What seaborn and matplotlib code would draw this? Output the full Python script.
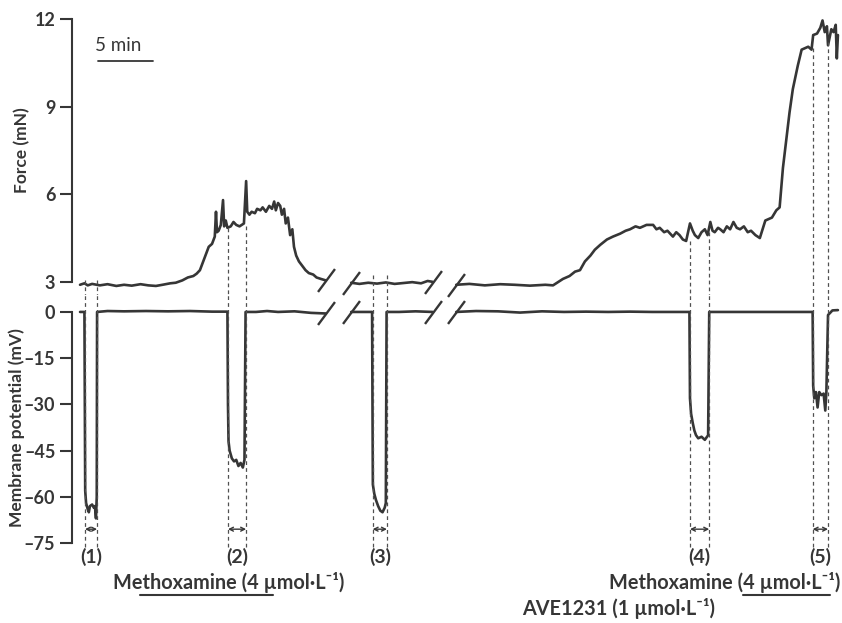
import matplotlib
matplotlib.use("Agg")
import matplotlib.pyplot as plt
import pandas as pd
import seaborn as sns

# time axis in minutes as drawn (two breaks hide part of the recording)
force_a_t = [0.0, 0.4, 0.7, 1.1, 1.8, 2.5, 3.3, 4.0, 4.7, 5.5, 6.2, 6.9, 7.5, 8.2,
             8.7, 9.3, 9.8, 10.3, 10.6, 10.9, 11.2, 11.5, 11.7, 12.0, 12.25, 12.36,
             12.45, 12.6, 12.8, 13.0, 13.1, 13.25, 13.4, 13.7, 13.95, 14.2, 14.5,
             14.9, 15.1, 15.2, 15.4, 15.6, 15.9, 16.1, 16.4, 16.6, 16.9, 17.2, 17.45,
             17.65, 17.8, 18.0, 18.2, 18.35, 18.55, 18.7, 18.9, 19.1, 19.3, 19.45,
             19.65, 19.9, 20.2, 20.5, 20.8, 21.2, 21.5, 21.9, 22.35]
force_a = [2.9, 2.95, 2.88, 2.93, 2.88, 2.92, 2.86, 2.9, 2.87, 2.92, 2.88, 2.86, 2.9, 2.95,
           2.97, 3.05, 3.15, 3.2, 3.28, 3.4, 3.7, 4.0, 4.2, 4.3, 4.55, 5.4,
           4.7, 4.75, 4.95, 5.8, 4.9, 5.1, 4.85, 4.9, 5.05, 4.95, 4.9,
           5.0, 6.45, 5.4, 5.3, 5.4, 5.35, 5.5, 5.45, 5.55, 5.4, 5.6, 5.5,
           5.75, 5.45, 5.7, 5.6, 5.3, 5.5, 5.0, 5.2, 4.6, 4.8, 4.2,
           3.9, 3.7, 3.55, 3.4, 3.3, 3.25, 3.15, 3.1, 3.05]

force_b_t = [24.65, 25.4, 26.2, 27.0, 27.8, 28.6, 29.4, 30.2, 31.0, 31.6, 32.05]
force_b = [2.97, 2.93, 2.97, 2.94, 2.98, 2.93, 2.96, 2.99, 2.95, 3.03, 3.0]

force_c_t = [34.2, 35.4, 36.8, 38.2, 39.5, 40.9, 42.3, 43.0, 43.9, 44.5, 45.0, 45.45,
             45.9, 46.4, 46.8, 47.3, 47.9, 48.45, 49.1, 49.6, 50.0, 50.5, 50.9, 51.5,
             52.1, 52.4, 52.7, 53.1, 53.4, 53.9, 54.2, 54.5, 54.8, 55.1, 55.45, 55.7,
             55.9, 56.2, 56.5, 56.8, 57.05, 57.3, 57.5, 57.7, 58.0, 58.2, 58.5, 58.8,
             59.1, 59.4, 59.7, 60.0, 60.35, 60.7, 61.0, 61.4, 61.8, 62.3, 62.9, 63.3,
             63.6, 63.9, 64.2, 64.5, 64.8, 65.25, 65.6, 65.9, 66.2, 66.5, 66.65, 67.0,
             67.3, 67.5, 67.7, 67.9, 68.0, 68.3, 68.5, 68.7, 68.8, 68.9]
force_c = [2.9, 2.93, 2.88, 2.92, 2.9, 2.87, 2.9, 2.88, 3.1, 3.2, 3.35, 3.4,
           3.7, 3.9, 4.1, 4.27, 4.45, 4.55, 4.65, 4.75, 4.8, 4.9, 4.85, 4.95,
           4.95, 4.8, 4.85, 4.7, 4.75, 4.55, 4.7, 4.6, 4.45, 4.4, 5.0, 4.75,
           4.6, 4.5, 4.7, 4.8, 4.6, 5.05, 4.75, 4.7, 4.85, 4.8, 4.7, 4.9,
           4.8, 5.05, 4.85, 4.8, 4.9, 4.7, 4.75, 4.6, 4.5, 5.1, 5.2, 5.45,
           5.55, 6.9, 7.85, 8.8, 9.6, 10.4, 10.95, 11.0, 11.05, 10.95, 11.45, 11.5,
           11.7, 11.95, 11.55, 11.75, 11.1, 11.65, 11.55, 11.8, 10.65, 11.45]

vm_a_t = [0.0, 0.4, 0.47, 0.55, 0.7, 0.8, 0.9, 1.1, 1.25, 1.35, 1.45, 1.52, 1.55,
          2.5, 4.0, 6.0, 8.0, 10.0, 12.0, 13.4, 13.45, 13.5, 13.6, 13.8, 14.0,
          14.2, 14.4, 14.6, 14.8, 14.95, 15.05, 16.0, 17.0, 18.0, 19.5, 21.0, 22.35]
vm_a = [0.0, 0.0, -58, -62, -64, -65, -63, -62.5, -63.5, -63, -67, -60, 0.0,
        0.3, 0.2, 0.3, 0.2, 0.3, 0.1, 0.1, -30, -42, -45, -47.5, -48.5,
        -48, -50, -49, -50.5, -48, 0.0, 0.0, 0.3, 0.0, 0.2, -0.3, -0.5]

vm_b_t = [24.65, 26.55, 26.62, 26.75, 26.9, 27.1, 27.3, 27.5, 27.7, 27.8, 27.87,
          29.0, 30.5, 32.05]
vm_b = [0.0, 0.0, -56, -59, -61, -63, -64.5, -65, -63.5, -62, 0.0,
        0.0, 0.2, 0.0]

vm_c_t = [34.2, 36.0, 38.0, 40.0, 42.0, 44.0, 46.0, 48.0, 50.0, 52.0, 55.4, 55.45,
          55.55, 55.7, 55.85, 56.0, 56.2, 56.5, 56.8, 57.1, 57.2, 59.0, 61.0, 63.0,
          65.0, 66.6, 66.65, 66.75, 66.9, 67.05, 67.2, 67.4, 67.6, 67.75, 67.85,
          68.0, 68.4, 68.9]
vm_c = [0.0, 0.3, 0.2, -0.2, 0.2, 0.0, 0.1, 0.0, 0.1, 0.0, 0.0, -28,
        -33, -36, -38.5, -40, -41, -40.5, -41.5, -40, 0.0, 0.0, 0.0, 0.0,
        0.0, 0.0, -24, -28, -26, -31, -26, -27, -26.5, -32, -26,
        -1.0, 0.5, 0.6]

# recording windows (1)-(5): start / end time and force level where the dashes start
win_labels = ["(1)", "(2)", "(3)", "(4)", "(5)"]
win_start = [0.45, 13.45, 26.6, 55.45, 66.6]
win_end = [1.55, 15.1, 27.9, 57.2, 68.0]
win_force_start = [3.05, 4.85, 3.25, 4.4, 11.0]
win_force_end = [3.05, 4.9, 3.25, 4.7, 11.2]

# drug applications
drug_text = ["Methoxamine (4 µmol·L⁻¹)", "Methoxamine (4 µmol·L⁻¹)", "AVE1231 (1 µmol·L⁻¹)"]
drug_text_t = [13.5, 58.6, 49.0]
drug_text_row = [0, 0, 1]
meth_bar_start = [5.45, 60.3]
meth_bar_end = [17.55, 68.2]

scale_bar = [1.6, 6.6]  # 5 min

ink = "#363636"

sns.set_theme(style="ticks")
plt.rcParams["font.family"] = ["Lato", "DejaVu Sans"]
plt.rcParams["font.weight"] = "bold"


def frame(parts, name):
    out = []
    for i, (t, v) in enumerate(parts):
        out.append(pd.DataFrame({"t": t, name: v, "seg": i}))
    return pd.concat(out, ignore_index=True)


force_df = frame([(force_a_t, force_a), (force_b_t, force_b), (force_c_t, force_c)], "force")
vm_df = frame([(vm_a_t, vm_a), (vm_b_t, vm_b), (vm_c_t, vm_c)], "vm")

fig = plt.figure(figsize=(8.42, 6.23), dpi=100)
ax_f = fig.add_axes([72 / 842, 328 / 623, 770 / 842, 295 / 623])
ax_m = fig.add_axes([72 / 842, 63 / 623, 770 / 842, 265 / 623])

sns.lineplot(data=force_df, x="t", y="force", units="seg", estimator=None, sort=False,
             color=ink, lw=1.9, ax=ax_f, legend=False)
sns.lineplot(data=vm_df, x="t", y="vm", units="seg", estimator=None, sort=False,
             color=ink, lw=1.9, ax=ax_m, legend=False)

xlim = (-0.73, 69.27)
for ax, lim, bounds, ticks in [(ax_f, (2.55, 12.65), (3, 12), [3, 6, 9, 12]),
                               (ax_m, (-80.5, 5.5), (-75, 0), [0, -15, -30, -45, -60, -75])]:
    ax.set_xlim(*xlim)
    ax.set_ylim(*lim)
    ax.patch.set_visible(False)
    sns.despine(ax=ax, bottom=True)
    ax.spines["left"].set_bounds(*bounds)
    ax.spines["left"].set_color(ink)
    ax.spines["left"].set_linewidth(1.5)
    ax.set_xticks([])
    ax.set_xlabel("")
    ax.set_yticks(ticks)
    ax.set_yticklabels([str(v).replace("-", "–") for v in ticks])
    ax.tick_params(axis="y", left=True, length=9, width=1.5, color=ink,
                   labelcolor=ink, labelsize=13, pad=3)

ax_f.set_ylabel("Force (mN)", fontsize=12.5, color=ink, fontweight="bold")
ax_f.yaxis.set_label_coords(-0.0545, 0.49)
ax_m.set_ylabel("Membrane potential (mV)", fontsize=12.5, color=ink, fontweight="bold")
ax_m.yaxis.set_label_coords(-0.061, 0.498)

# axis breaks
slash = [(-0.74, -1), (0.74, 1)]
break_t = [force_a_t[-1], force_b_t[0], force_b_t[-1], force_c_t[0]]
ax_f.plot(break_t, [force_a[-1], force_b[0], force_b[-1], force_c[0]], ls="none",
          marker=slash, ms=16.5, mew=1.7, mec=ink, clip_on=False)
ax_m.plot(break_t, [vm_a[-1], vm_b[0], vm_b[-1], vm_c[0]], ls="none",
          marker=slash, ms=16.5, mew=1.7, mec=ink, clip_on=False)

# windows
dash = (0, (3, 2.5))
ax_f.vlines(win_start, win_force_start, 2.55, colors="#505050", lw=0.9, linestyles=dash)
ax_f.vlines(win_end, win_force_end, 2.55, colors="#505050", lw=0.9, linestyles=dash)
ax_m.vlines(win_start + win_end, -76.3, 5.5, colors="#505050", lw=0.9, linestyles=dash)
for s, e, lab in zip(win_start, win_end, win_labels):
    ax_m.annotate("", xy=(e, -70.5), xytext=(s, -70.5),
                  arrowprops=dict(arrowstyle="<->", color=ink, lw=1.0,
                                  shrinkA=0, shrinkB=0, mutation_scale=7))
    ax_m.text((s + e) / 2, -79.5, lab, ha="center", va="center", fontsize=14,
              color=ink, clip_on=False)

# drugs
row_y = [-87.7, -96.1]
for txt, t, r in zip(drug_text, drug_text_t, drug_text_row):
    ax_m.text(t, row_y[r], txt, ha="center", va="center", fontsize=14.3, color=ink,
              clip_on=False)
for s, e in zip(meth_bar_start, meth_bar_end):
    ax_m.plot([s, e], [-91.9, -91.9], color=ink, lw=1.5, clip_on=False)

# scale bar
ax_f.plot(scale_bar, [10.56, 10.56], color=ink, lw=1.3)
ax_f.text(scale_bar[0] - 0.2, 11.08, "5 min", ha="left", va="center", fontsize=13.5,
          fontweight="normal", color=ink)

fig.savefig("out.png", dpi=100)
